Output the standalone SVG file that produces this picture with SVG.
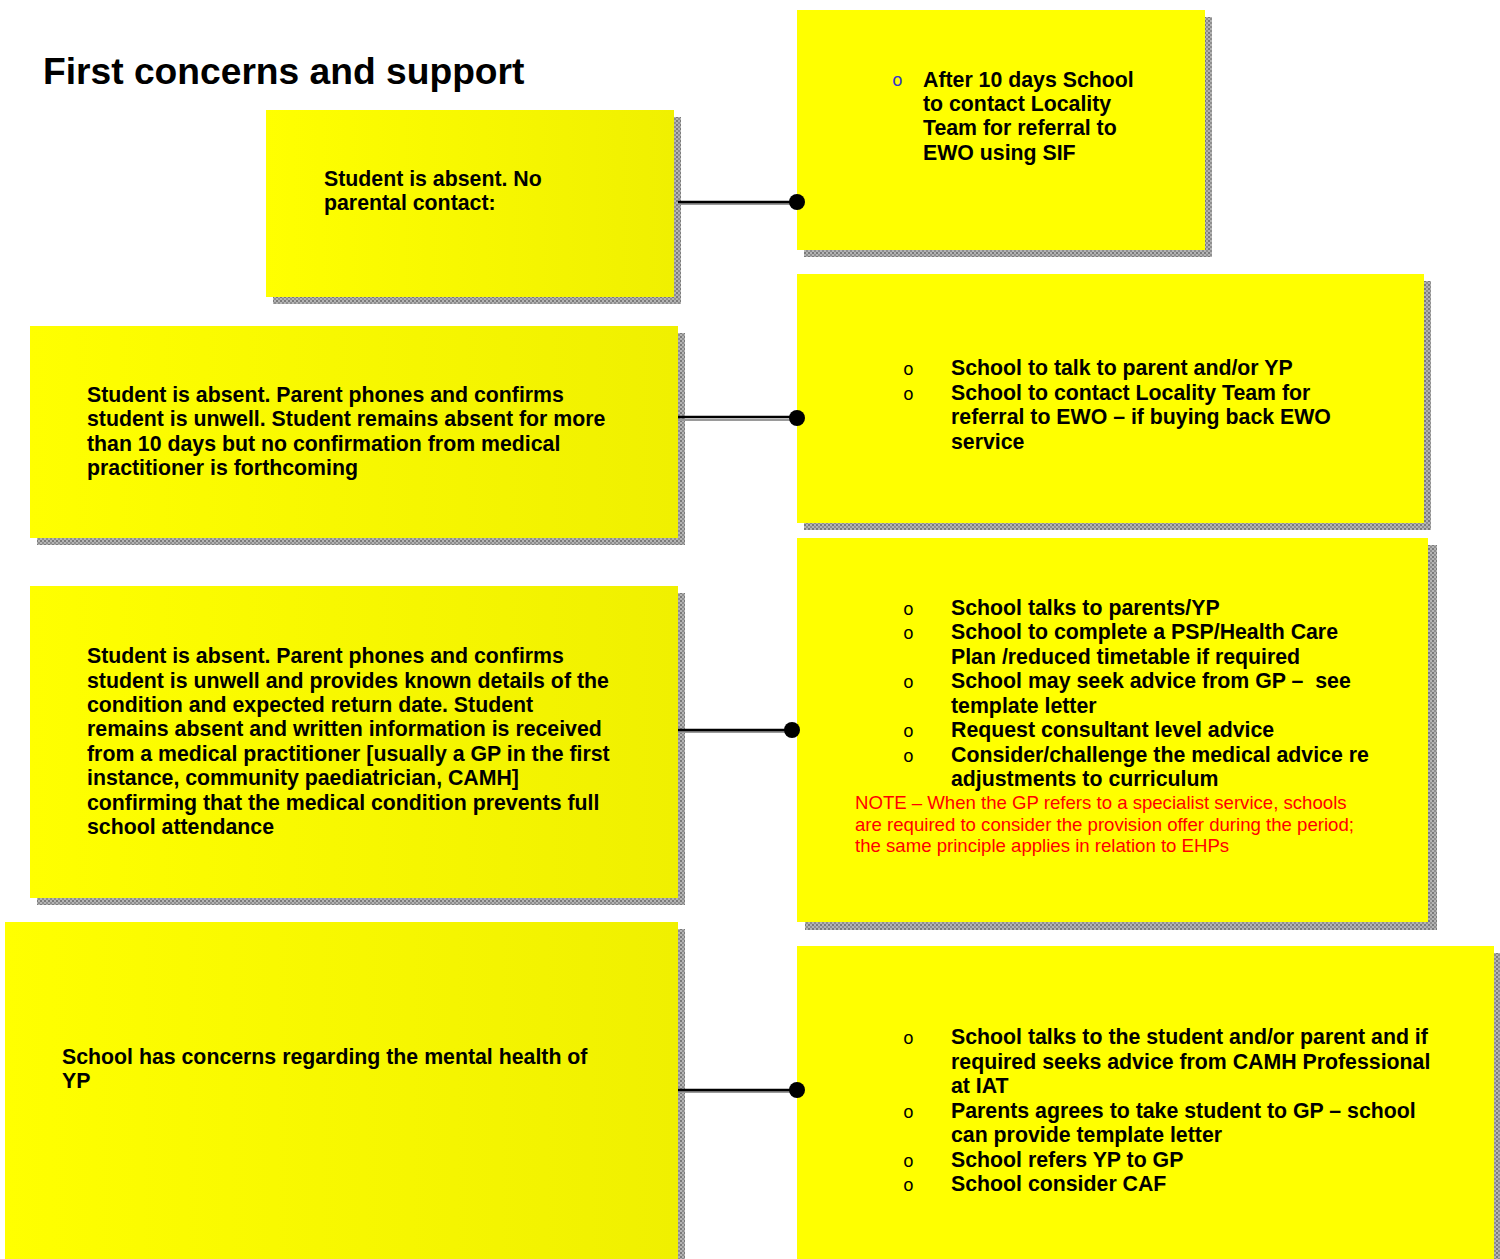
<svg xmlns="http://www.w3.org/2000/svg" width="1500" height="1259" viewBox="0 0 1500 1259">
<defs>
<linearGradient id="lg" x1="0" y1="0" x2="1" y2="0">
<stop offset="0" stop-color="#ffff00"/>
<stop offset="1" stop-color="#f0f000"/>
</linearGradient>
<pattern id="sh" width="4" height="4" patternUnits="userSpaceOnUse">
<rect width="4" height="4" fill="#b4b4b4"/>
<rect width="2" height="2" fill="#7a7a7a"/>
<rect x="2" y="2" width="2" height="2" fill="#8e8e8e"/>
</pattern>
</defs>
<style>
.t{font-family:"Liberation Sans",Arial,sans-serif;font-weight:bold;font-size:21.3px;fill:#000}
.b{font-family:"Liberation Mono","Courier New",monospace;font-size:18px;fill:#000}
.n{font-family:"Liberation Sans",Arial,sans-serif;font-size:18.6px;fill:#ff0000}
.shadow{fill:url(#sh)}
.lbox{fill:url(#lg)}
.rbox{fill:#ffff00}
.con{stroke:#000;stroke-width:2.5;fill:none}
.conS{stroke:#9a9a9a;stroke-width:2;fill:none}
</style>
<rect width="1500" height="1259" fill="#fff"/>
<text x="43" y="84" font-family="Liberation Sans,Arial,sans-serif" font-weight="bold" font-size="37.2">First concerns and support</text>

<g id="nodeA">
<rect class="shadow" x="273" y="117" width="408" height="187"/>
<rect class="lbox" x="266" y="110" width="408" height="187"/>
<text class="t" x="324" y="186">Student is absent. No</text>
<text class="t" x="324" y="210">parental contact:</text>
</g>

<g id="nodeB">
<rect class="shadow" x="804" y="17" width="408" height="240"/>
<rect class="rbox" x="797" y="10" width="408" height="240"/>
<text class="b" x="892" y="86" style="fill:#3333cc">o</text>
<text class="t" x="923" y="87">After 10 days School</text>
<text class="t" x="923" y="111">to contact Locality</text>
<text class="t" x="923" y="135">Team for referral to</text>
<text class="t" x="923" y="160">EWO using SIF</text>
</g>

<g id="nodeC">
<rect class="shadow" x="37" y="333" width="648" height="212"/>
<rect class="lbox" x="30" y="326" width="648" height="212"/>
<text class="t" x="87" y="402">Student is absent. Parent phones and confirms</text>
<text class="t" x="87" y="426">student is unwell. Student remains absent for more</text>
<text class="t" x="87" y="451">than 10 days but no confirmation from medical</text>
<text class="t" x="87" y="475">practitioner is forthcoming</text>
</g>

<g id="nodeD">
<rect class="shadow" x="804" y="281" width="627" height="249"/>
<rect class="rbox" x="797" y="274" width="627" height="249"/>
<text class="b" x="903" y="375">o</text>
<text class="t" x="951" y="375">School to talk to parent and/or YP</text>
<text class="b" x="903" y="400">o</text>
<text class="t" x="951" y="400">School to contact Locality Team for</text>
<text class="t" x="951" y="424">referral to EWO – if buying back EWO</text>
<text class="t" x="951" y="449">service</text>
</g>

<g id="nodeE">
<rect class="shadow" x="37" y="593" width="648" height="312"/>
<rect class="lbox" x="30" y="586" width="648" height="312"/>
<text class="t" x="87" y="663">Student is absent. Parent phones and confirms</text>
<text class="t" x="87" y="688">student is unwell and provides known details of the</text>
<text class="t" x="87" y="712">condition and expected return date. Student</text>
<text class="t" x="87" y="736">remains absent and written information is received</text>
<text class="t" x="87" y="761">from a medical practitioner [usually a GP in the first</text>
<text class="t" x="87" y="785">instance, community paediatrician, CAMH]</text>
<text class="t" x="87" y="810">confirming that the medical condition prevents full</text>
<text class="t" x="87" y="834">school attendance</text>
</g>

<g id="nodeF">
<rect class="shadow" x="805" y="545" width="632" height="385"/>
<rect class="rbox" x="797" y="538" width="631" height="384"/>
<text class="b" x="903" y="615">o</text>
<text class="t" x="951" y="615">School talks to parents/YP</text>
<text class="b" x="903" y="639">o</text>
<text class="t" x="951" y="639">School to complete a PSP/Health Care</text>
<text class="t" x="951" y="664">Plan /reduced timetable if required</text>
<text class="b" x="903" y="688">o</text>
<text class="t" x="951" y="688">School may seek advice from GP –&#160; see</text>
<text class="t" x="951" y="713">template letter</text>
<text class="b" x="903" y="737">o</text>
<text class="t" x="951" y="737">Request consultant level advice</text>
<text class="b" x="903" y="762">o</text>
<text class="t" x="951" y="762">Consider/challenge the medical advice re</text>
<text class="t" x="951" y="786">adjustments to curriculum</text>
<text class="n" x="855" y="809">NOTE – When the GP refers to a specialist service, schools</text>
<text class="n" x="855" y="831">are required to consider the provision offer during the period;</text>
<text class="n" x="855" y="852">the same principle applies in relation to EHPs</text>
</g>

<g id="nodeG">
<rect class="shadow" x="12" y="929" width="673" height="340"/>
<rect class="lbox" x="5" y="922" width="673" height="340"/>
<text class="t" x="62" y="1064">School has concerns regarding the mental health of</text>
<text class="t" x="62" y="1088">YP</text>
</g>

<g id="nodeH">
<rect class="shadow" x="804" y="953" width="696" height="310"/>
<rect class="rbox" x="797" y="946" width="697" height="313"/>
<text class="b" x="903" y="1044">o</text>
<text class="t" x="951" y="1044">School talks to the student and/or parent and if</text>
<text class="t" x="951" y="1069">required seeks advice from CAMH Professional</text>
<text class="t" x="951" y="1093">at IAT</text>
<text class="b" x="903" y="1118">o</text>
<text class="t" x="951" y="1118">Parents agrees to take student to GP – school</text>
<text class="t" x="951" y="1142">can provide template letter</text>
<text class="b" x="903" y="1167">o</text>
<text class="t" x="951" y="1167">School refers YP to GP</text>
<text class="b" x="903" y="1191">o</text>
<text class="t" x="951" y="1191">School consider CAF</text>
</g>

<g id="connectors">
<path class="conS" d="M678 204H797M678 420H797M678 732H792M678 1092H797"/>
<path class="con" d="M678 202H797M678 417H797M678 730H792M678 1090H797"/>
<circle cx="797" cy="202" r="8"/>
<circle cx="797" cy="418" r="8"/>
<circle cx="792" cy="730" r="8"/>
<circle cx="797" cy="1090" r="8"/>
</g>
</svg>
